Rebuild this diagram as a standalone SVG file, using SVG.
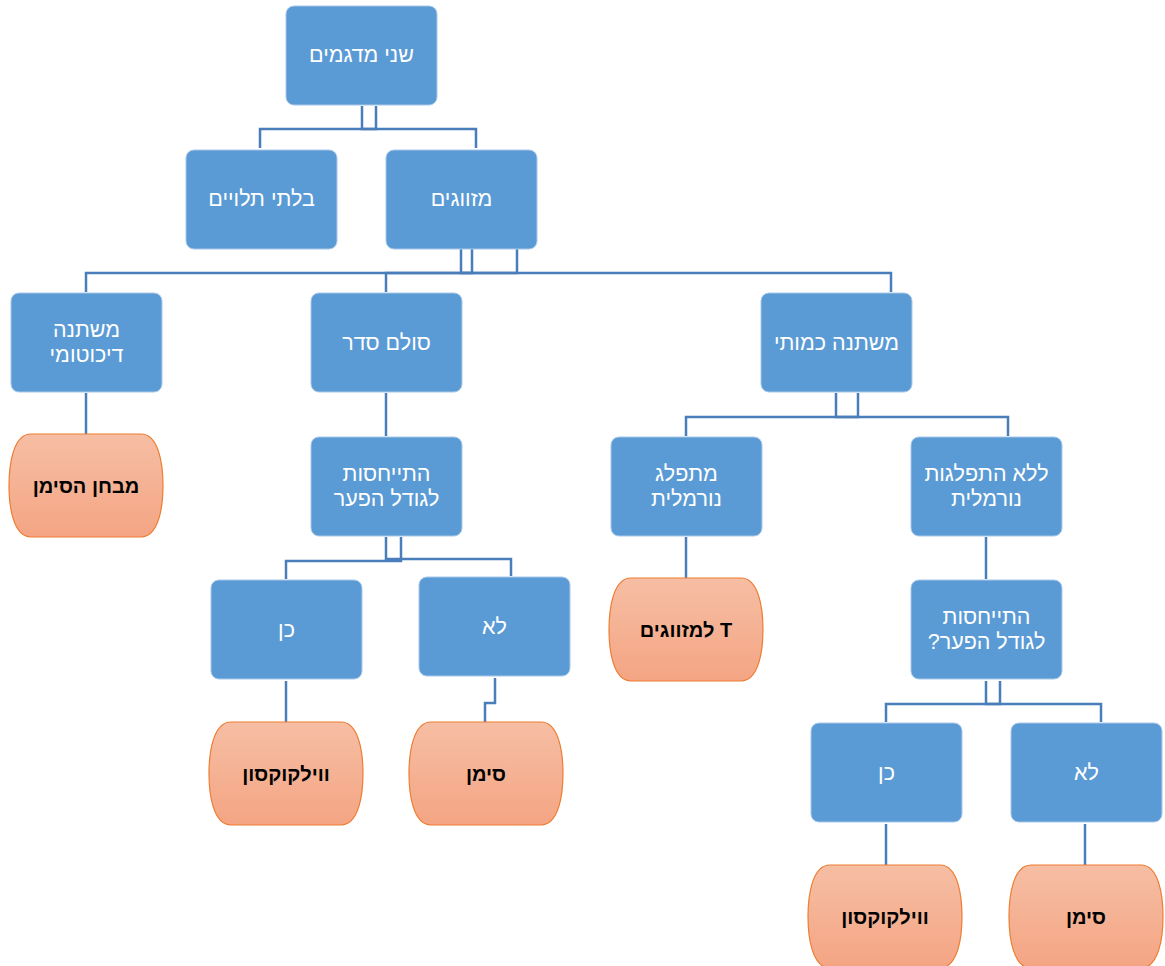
<svg xmlns="http://www.w3.org/2000/svg" width="1165" height="966" viewBox="0 0 1165 966">
<style>
.box{fill:#5B9BD5;stroke:#A9C8EA;stroke-width:1}
.wt{fill:#FFFFFF;font-family:"Liberation Sans","DejaVu Sans",sans-serif;font-size:21.5px;text-anchor:middle}
.bt{fill:#000000;font-family:"Liberation Sans","DejaVu Sans",sans-serif;font-size:20px;font-weight:bold;text-anchor:middle}
.term{fill:url(#og);stroke:#ED7D31;stroke-width:1.2}
.con{fill:none;stroke:#4A7EBB;stroke-width:2.5}
</style>
<defs>
<linearGradient id="og" x1="0" y1="0" x2="0" y2="1">
<stop offset="0" stop-color="#F6BEA4"/>
<stop offset="1" stop-color="#F4A583"/>
</linearGradient>
<path id="tp" d="M22,0 H132 C150,0 154,31 154,51.5 C154,72 150,103 132,103 H22 C4,103 0,72 0,51.5 C0,31 4,0 22,0 Z"/>
</defs>
<rect width="1165" height="966" fill="#FFFFFF"/>
<g id="connectors">
<path class="con" d="M376 106 V129 H260 V148"/>
<path class="con" d="M362 106 V129 H476 V148"/>
<path class="con" d="M461 249 V273 H891 V292"/>
<path class="con" d="M472 249 V273 H386 V292"/>
<path class="con" d="M517 249 V273 H86 V292"/>
<path class="con" d="M86 393 V434"/>
<path class="con" d="M386 393 V436"/>
<path class="con" d="M401 537 V561 H286 V579"/>
<path class="con" d="M386 537 V559 H511 V576"/>
<path class="con" d="M286 681 V722"/>
<path class="con" d="M495 678 V703 H485 V722"/>
<path class="con" d="M836 393 V417 H1008 V436"/>
<path class="con" d="M858 393 V417 H686 V436"/>
<path class="con" d="M686 537 V578"/>
<path class="con" d="M986 537 V579"/>
<path class="con" d="M986 681 V704 H1101 V722"/>
<path class="con" d="M1000 681 V704 H886 V722"/>
<path class="con" d="M886 824 V865"/>
<path class="con" d="M1085 824 V865"/>
</g>
<g id="n1"><rect class="box" x="286" y="6" width="151" height="99" rx="8"/><text class="wt" direction="rtl" x="361.5" y="62">שני מדגמים</text></g>
<g id="n2"><rect class="box" x="186" y="150" width="151" height="99" rx="8"/><text class="wt" direction="rtl" x="261.5" y="206">בלתי תלויים</text></g>
<g id="n3"><rect class="box" x="386" y="150" width="151" height="99" rx="8"/><text class="wt" direction="rtl" x="461.5" y="206">מזווגים</text></g>
<g id="n4"><rect class="box" x="11" y="293" width="151" height="99" rx="8"/><text class="wt" direction="rtl" x="86.5" y="337">משתנה</text><text class="wt" direction="rtl" x="86.5" y="362">דיכוטומי</text></g>
<g id="n5"><rect class="box" x="311" y="293" width="151" height="99" rx="8"/><text class="wt" direction="rtl" x="386.5" y="350">סולם סדר</text></g>
<g id="n6"><rect class="box" x="761" y="293" width="151" height="99" rx="8"/><text class="wt" direction="rtl" x="836.5" y="350">משתנה כמותי</text></g>
<g id="n7"><use href="#tp" class="term" x="9" y="434"/><text class="bt" direction="rtl" x="86" y="493">מבחן הסימן</text></g>
<g id="n8"><rect class="box" x="311" y="437" width="151" height="99" rx="8"/><text class="wt" direction="rtl" x="386.5" y="481">התייחסות</text><text class="wt" direction="rtl" x="386.5" y="506">לגודל הפער</text></g>
<g id="n9"><rect class="box" x="611" y="437" width="151" height="99" rx="8"/><text class="wt" direction="rtl" x="686.5" y="481">מתפלג</text><text class="wt" direction="rtl" x="686.5" y="506">נורמלית</text></g>
<g id="n10"><rect class="box" x="911" y="437" width="151" height="99" rx="8"/><text class="wt" direction="rtl" x="986.5" y="481">ללא התפלגות</text><text class="wt" direction="rtl" x="986.5" y="506">נורמלית</text></g>
<g id="n11"><rect class="box" x="211" y="580" width="151" height="99" rx="8"/><text class="wt" direction="rtl" x="286.5" y="637">כן</text></g>
<g id="n12"><rect class="box" x="419" y="577" width="151" height="99" rx="8"/><text class="wt" direction="rtl" x="494.5" y="634">לא</text></g>
<g id="n13"><use href="#tp" class="term" x="609" y="578"/><text class="bt" direction="rtl" x="686" y="637">T למזווגים</text></g>
<g id="n14"><rect class="box" x="911" y="580" width="151" height="99" rx="8"/><text class="wt" direction="rtl" x="986.5" y="624">התייחסות</text><text class="wt" direction="rtl" x="986.5" y="649">לגודל הפער?</text></g>
<g id="n15"><use href="#tp" class="term" x="209" y="722"/><text class="bt" direction="rtl" x="286" y="781">ווילקוקסון</text></g>
<g id="n16"><use href="#tp" class="term" x="409" y="722"/><text class="bt" direction="rtl" x="486" y="781">סימן</text></g>
<g id="n17"><rect class="box" x="811" y="723" width="151" height="99" rx="8"/><text class="wt" direction="rtl" x="886.5" y="780">כן</text></g>
<g id="n18"><rect class="box" x="1011" y="723" width="151" height="99" rx="8"/><text class="wt" direction="rtl" x="1086.5" y="780">לא</text></g>
<g id="n19"><use href="#tp" class="term" x="808" y="865"/><text class="bt" direction="rtl" x="885" y="924">ווילקוקסון</text></g>
<g id="n20"><use href="#tp" class="term" x="1009" y="865"/><text class="bt" direction="rtl" x="1086" y="924">סימן</text></g>
</svg>
